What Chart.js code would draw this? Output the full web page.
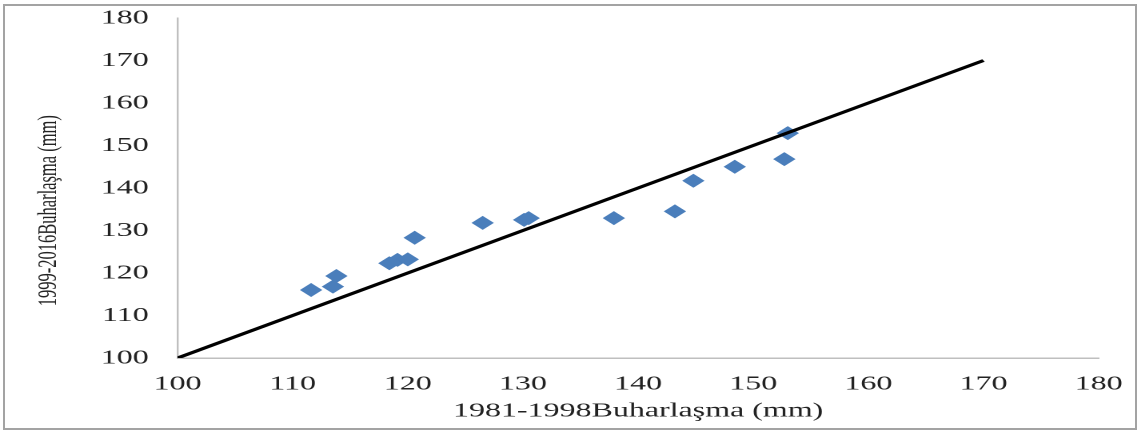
<!DOCTYPE html>
<html lang="tr">
  <head>
    <meta charset="UTF-8" />
    <title>Buharlaşma karşılaştırması</title>
    <script src="https://cdn.jsdelivr.net/npm/chart.js@4.4.1/dist/chart.umd.min.js"></script>
    <style>
      body {
        margin: 0;
        background: #fff;
      }
      #wrap {
        position: relative;
        width: 1145px;
        height: 432px;
        overflow: hidden;
      }
      /* the source figure was stretched sideways, so the chart is drawn narrow and scaled */
      #stretch {
        position: absolute;
        left: 0;
        top: 0;
        width: 716px;
        height: 432px;
        transform: scaleX(1.5992);
        transform-origin: 0 0;
      }
      #frame {
        position: absolute;
        left: 3px;
        top: 4px;
        width: 1134px;
        height: 426px;
        box-sizing: border-box;
        border: 2px solid #a3a3a3;
        pointer-events: none;
      }
    </style>
  </head>
  <body>
    <div id="wrap">
      <div id="stretch">
        <canvas id="chart" width="716" height="432" style="width:716px;height:432px"></canvas>
      </div>
      <div id="frame"></div>
    </div>

    <script>
      // 1981-1998 vs 1999-2016 evaporation (mm)
      const xValues = [111.6, 113.5, 113.8, 118.4, 119.1, 120.0, 120.6, 126.5, 130.1, 130.5, 137.9, 143.2, 144.8, 148.4, 152.7, 153.0];
      const yValues = [116.0, 116.8, 119.3, 122.3, 123.1, 123.2, 128.3, 131.8, 132.5, 132.9, 132.9, 134.5, 141.7, 145.0, 146.8, 152.9];

      // 1:1 reference line
      const lineX = [100, 170];
      const lineY = [100, 170];

      const axisMin = 100;
      const axisMax = 180;
      const axisStep = 10;

      const xTitle = '1981-1998Buharlaşma (mm)';
      // trailing nbsp pushes the rotated title a bit down, like in the original
      const yTitle = '1999-2016Buharlaşma (mm)' + '\u00a0'.repeat(11);

      const points = xValues.map((x, i) => ({ x: x, y: yValues[i] }));
      const line = lineX.map((x, i) => ({ x: x, y: lineY[i] }));

      const serif = '"Liberation Serif", "DejaVu Serif", serif';
      const tickFont = { family: serif, size: 20 };

      new Chart(document.getElementById('chart'), {
        type: 'scatter',
        data: {
          datasets: [
            {
              type: 'line',
              data: line,
              borderColor: '#000',
              borderWidth: 3,
              pointRadius: 0,
              fill: false,
              order: 0,
            },
            {
              data: points,
              pointStyle: 'rectRot',
              pointRadius: 7,
              backgroundColor: '#4a7ebb',
              borderColor: '#4a7ebb',
              borderWidth: 0,
              order: 1,
            },
          ],
        },
        options: {
          responsive: false,
          devicePixelRatio: 2,
          animation: false,
          layout: { padding: { top: 18, right: 28, left: 0, bottom: 0 } },
          plugins: {
            legend: { display: false },
            tooltip: { enabled: false },
          },
          scales: {
            x: {
              type: 'linear',
              min: axisMin,
              max: axisMax,
              ticks: { stepSize: axisStep, font: tickFont, color: '#222', padding: 14 },
              grid: { display: false, drawTicks: false },
              border: { display: true, color: '#bfbfbf', width: 1.5 },
              title: {
                display: true,
                text: xTitle,
                font: tickFont,
                color: '#222',
                padding: { top: 0, bottom: 9 },
              },
              afterFit: (scale) => {
                scale.height = 74;
              },
            },
            y: {
              min: axisMin,
              max: axisMax,
              ticks: { stepSize: axisStep, font: tickFont, color: '#222', padding: 18 },
              grid: { display: false, drawTicks: false },
              border: { display: true, color: '#bfbfbf', width: 1.2 },
              title: {
                display: true,
                text: yTitle,
                font: { family: serif, size: 16.5 },
                color: '#222',
                padding: { top: 21, bottom: 0 },
              },
              afterFit: (scale) => {
                scale.width = 111;
                // keep the tick padding from eating into the top margin
                scale.paddingTop = 0;
                scale.paddingBottom = 0;
              },
            },
          },
        },
      });
    </script>
  </body>
</html>
